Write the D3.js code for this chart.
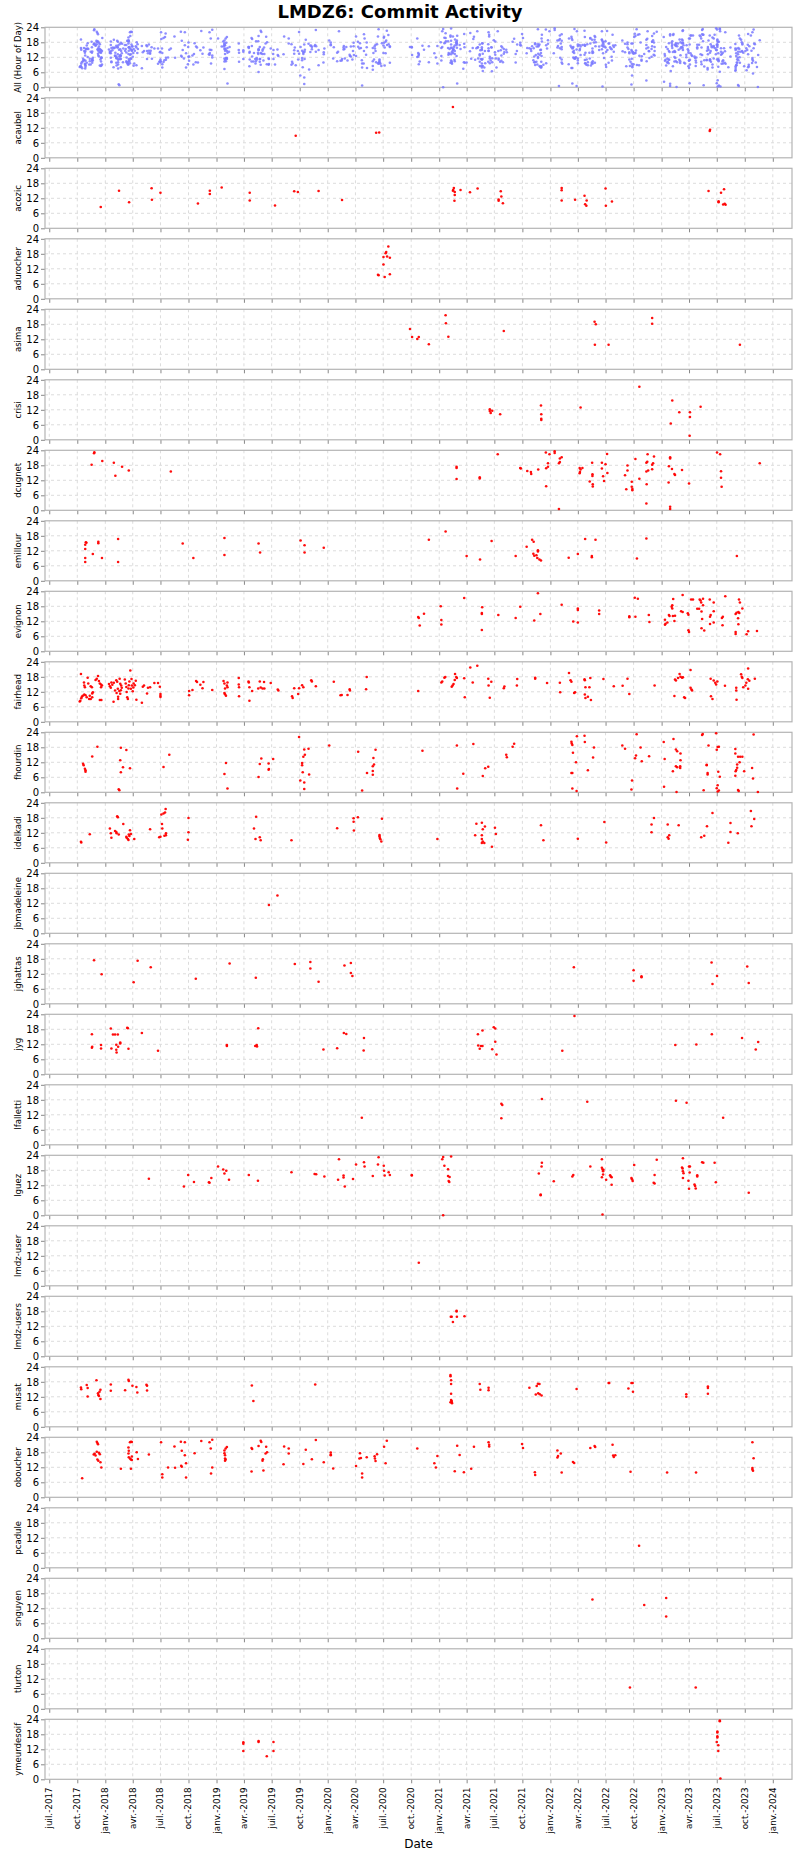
<!DOCTYPE html>
<html><head><meta charset="utf-8">
<script src="https://cdn.jsdelivr.net/npm/d3@7"></script>
<style>body{margin:0;background:#fff}svg{display:block}</style>
</head><body><svg id="c" width="800" height="1860"></svg>
<script>
// ---------------- DATA ----------------
const chartTitle = "LMDZ6: Commit Activity";
const allLabel = "All (Hour of Day)";
const xTitle = "Date";
const yTicks = [0, 6, 12, 18, 24];
const xDomain = ["2017-06-17", "2024-03-04"];
const xTickDates = ["2017-07-01","2017-10-01","2018-01-01","2018-04-01","2018-07-01","2018-10-01","2019-01-01","2019-04-01","2019-07-01","2019-10-01","2020-01-01","2020-04-01","2020-07-01","2020-10-01","2021-01-01","2021-04-01","2021-07-01","2021-10-01","2022-01-01","2022-04-01","2022-07-01","2022-10-01","2023-01-01","2023-04-01","2023-07-01","2023-10-01","2024-01-01"];
const xTickLabels = ["juil.-2017","oct.-2017","janv.-2018","avr.-2018","juil.-2018","oct.-2018","janv.-2019","avr.-2019","juil.-2019","oct.-2019","janv.-2020","avr.-2020","juil.-2020","oct.-2020","janv.-2021","avr.-2021","juil.-2021","oct.-2021","janv.-2022","avr.-2022","juil.-2022","oct.-2022","janv.-2023","avr.-2023","juil.-2023","oct.-2023","janv.-2024"];
const authors = ["acaubel","acozic","adurocher","asima","crisi","dcugnet","emillour","evignon","fairhead","fhourdin","idelkadi","jbmadeleine","jghattas","jyg","lfalletti","lguez","lmdz-user","lmdz-users","musat","oboucher","pcadule","snguyen","tlurton","ymeurdesoif"];

// [date, hour of day]
const acaubel = [["2019-09-18",8.8],["2020-06-08",10.0],["2020-06-18",10.1],["2021-02-15",20.3],["2023-06-08",10.7],["2023-06-09",11.2]];
const acozic = [["2017-12-17",8.5],["2018-02-15",15.0],["2018-03-20",10.4],["2018-06-02",16.0],["2018-06-03",11.4],["2018-07-01",14.2],["2018-11-01",9.9],["2018-12-10",15.0],["2018-12-10",13.7],["2019-01-18",16.3],["2019-04-20",14.2],["2019-04-20",11.1],["2019-07-12",9.1],["2019-09-13",14.8],["2019-09-25",14.5],["2019-12-02",14.9],["2020-02-17",11.3],["2021-02-15",15.0],["2021-02-18",16.1],["2021-02-16",15.3],["2021-02-21",14.5],["2021-02-21",13.3],["2021-02-20",11.0],["2021-03-12",15.3],["2021-04-12",14.4],["2021-05-07",15.9],["2021-07-15",11.5],["2021-07-15",11.0],["2021-07-22",14.8],["2021-07-24",12.7],["2021-07-29",10.0],["2022-02-07",16.1],["2022-02-07",15.2],["2022-02-07",11.1],["2022-03-23",11.4],["2022-04-23",13.0],["2022-04-25",9.6],["2022-04-29",9.0],["2022-04-30",11.1],["2022-07-01",15.9],["2022-07-02",9.0],["2022-07-22",10.7],["2023-06-04",14.9],["2023-07-07",10.8],["2023-07-07",10.4],["2023-07-15",14.2],["2023-07-25",15.6],["2023-07-22",9.5],["2023-07-27",9.8],["2023-07-30",9.4]];
const adurocher = [["2020-06-14",9.6],["2020-06-16",9.4],["2020-07-02",13.7],["2020-07-02",16.7],["2020-07-06",8.7],["2020-07-09",18.2],["2020-07-11",18.7],["2020-07-14",16.9],["2020-07-18",20.9],["2020-07-23",16.4],["2020-07-23",9.8]];
const asima = [["2020-09-27",16.1],["2020-10-04",12.9],["2020-10-21",12.1],["2020-10-26",12.9],["2020-11-28",10.0],["2021-01-22",21.6],["2021-01-23",18.4],["2021-01-31",13.0],["2021-08-01",15.3],["2022-05-26",19.0],["2022-05-30",18.0],["2022-05-27",9.8],["2022-07-11",9.8],["2022-12-01",20.5],["2022-12-01",18.2],["2023-09-15",9.8]];
const crisi = [["2021-06-16",12.2],["2021-06-16",11.5],["2021-06-19",10.7],["2021-06-24",11.6],["2021-07-20",10.2],["2021-12-01",13.7],["2021-12-02",10.2],["2021-12-02",8.4],["2021-12-02",7.9],["2022-04-10",12.9],["2022-10-20",21.2],["2023-02-05",15.7],["2023-01-31",6.5],["2023-02-28",11.0],["2023-04-04",11.0],["2023-04-04",9.1],["2023-04-03",1.6],["2023-05-09",13.2]];
const dcugnet = [["2017-11-17",18.2],["2017-11-25",22.8],["2017-11-26",23.2],["2017-12-22",19.7],["2018-01-29",19.0],["2018-02-03",13.8],["2018-02-25",17.4],["2018-03-19",15.9],["2018-08-04",15.5],["2021-02-27",17.4],["2021-02-27",16.9],["2021-02-27",12.5],["2021-05-14",13.2],["2021-05-14",12.7],["2021-07-12",22.4],["2021-09-24",16.9],["2021-09-26",16.7],["2021-10-17",15.7],["2021-10-29",15.3],["2021-10-30",14.5],["2021-11-22",16.3],["2021-12-17",23.1],["2021-12-18",9.6],["2021-12-18",16.8],["2021-12-24",17.4],["2021-12-24",18.8],["2021-12-29",22.4],["2022-01-15",23.6],["2022-01-15",22.9],["2022-01-29",18.8],["2022-02-01",19.3],["2022-02-01",20.7],["2022-02-07",21.2],["2022-01-29",0.5],["2022-04-07",16.9],["2022-04-10",16.3],["2022-04-08",15.3],["2022-04-07",14.8],["2022-04-16",16.9],["2022-05-10",11.5],["2022-05-20",10.4],["2022-05-20",9.5],["2022-05-19",14.4],["2022-05-19",13.7],["2022-05-18",19.0],["2022-06-19",19.0],["2022-06-19",16.7],["2022-06-23",13.6],["2022-06-26",11.7],["2022-07-01",18.4],["2022-07-07",14.9],["2022-07-06",22.5],["2022-09-03",14.0],["2022-09-11",15.9],["2022-09-11",17.9],["2022-09-07",8.4],["2022-09-25",11.4],["2022-09-25",9.4],["2022-09-27",8.5],["2022-09-27",8.0],["2022-10-07",20.5],["2022-10-20",12.6],["2022-11-12",19.0],["2022-11-15",19.4],["2022-11-16",22.4],["2022-11-12",15.5],["2022-11-18",15.9],["2022-11-13",10.4],["2022-11-12",2.7],["2022-12-01",16.4],["2022-12-01",18.2],["2022-12-04",18.8],["2022-12-07",21.5],["2023-01-25",17.6],["2023-01-29",21.2],["2023-01-29",20.7],["2023-01-24",11.1],["2023-01-29",1.4],["2023-01-29",0.5],["2023-02-04",16.5],["2023-02-12",14.5],["2023-02-14",14.1],["2023-03-09",16.1],["2023-04-01",10.7],["2023-07-02",23.1],["2023-07-12",22.4],["2023-07-15",15.6],["2023-07-15",13.0],["2023-07-17",9.4],["2023-11-19",18.8]];
const emillour = [["2017-10-29",15.4],["2017-10-31",15.2],["2017-10-27",14.4],["2017-10-27",12.7],["2017-10-27",9.1],["2017-10-27",7.5],["2017-11-21",10.7],["2017-12-09",15.6],["2017-12-09",15.0],["2017-12-21",9.1],["2018-02-12",16.7],["2018-02-12",7.5],["2018-09-12",14.9],["2018-10-17",9.1],["2019-01-27",17.1],["2019-01-27",10.3],["2019-05-19",14.9],["2019-05-24",11.3],["2019-10-04",16.1],["2019-10-17",14.2],["2019-10-17",11.3],["2019-12-19",13.2],["2020-11-28",16.4],["2021-01-22",19.7],["2021-04-01",9.9],["2021-05-15",8.5],["2021-06-22",15.9],["2021-09-09",9.9],["2021-10-15",13.6],["2021-11-02",16.4],["2021-11-07",15.6],["2021-11-06",10.8],["2021-11-09",10.0],["2021-11-16",10.2],["2021-11-21",12.2],["2021-11-21",11.7],["2021-11-19",9.1],["2021-11-26",8.5],["2021-12-01",8.1],["2022-03-02",9.2],["2022-04-01",10.7],["2022-04-25",16.7],["2022-05-17",9.9],["2022-05-17",9.4],["2022-05-29",16.4],["2022-10-12",8.9],["2022-11-12",16.9],["2023-09-05",9.9]];
const evignon = [["2020-10-24",13.7],["2020-10-26",13.3],["2020-10-29",10.3],["2020-11-12",15.0],["2021-01-06",18.0],["2021-01-08",12.5],["2021-01-08",10.7],["2021-03-24",21.3],["2021-05-22",17.6],["2021-05-21",15.3],["2021-05-21",14.9],["2021-05-21",8.5],["2021-07-14",14.5],["2021-09-09",13.3],["2021-09-24",17.8],["2021-11-09",12.3],["2021-11-21",23.2],["2021-11-29",14.9],["2022-02-07",18.6],["2022-03-17",11.9],["2022-04-01",11.5],["2022-04-01",17.1],["2022-04-01",16.5],["2022-06-10",16.3],["2022-06-10",14.9],["2022-09-17",14.0],["2022-09-17",13.6],["2022-10-05",21.4],["2022-10-15",21.0],["2022-10-07",13.8],["2022-11-20",14.5],["2022-11-22",11.7],["2023-01-12",12.6],["2023-01-14",11.0],["2023-01-12",10.6],["2023-01-20",11.5],["2023-01-25",14.5],["2023-01-27",14.1],["2023-02-03",17.8],["2023-02-05",18.4],["2023-02-05",17.1],["2023-02-08",20.9],["2023-02-07",14.1],["2023-02-12",12.1],["2023-02-14",14.2],["2023-03-06",16.0],["2023-03-11",15.7],["2023-03-11",22.5],["2023-03-28",15.2],["2023-03-30",14.6],["2023-03-30",8.4],["2023-04-01",7.7],["2023-04-08",20.7],["2023-04-14",20.7],["2023-04-28",17.0],["2023-05-04",17.0],["2023-05-06",20.7],["2023-05-09",20.3],["2023-05-11",19.5],["2023-05-12",15.9],["2023-05-14",12.9],["2023-05-17",18.4],["2023-05-17",21.0],["2023-05-12",9.2],["2023-05-21",8.3],["2023-06-08",20.7],["2023-06-09",13.8],["2023-06-09",10.9],["2023-06-11",14.5],["2023-06-21",19.5],["2023-06-21",16.0],["2023-06-21",11.5],["2023-07-18",13.3],["2023-07-21",13.8],["2023-07-20",10.4],["2023-07-29",22.0],["2023-09-01",14.9],["2023-09-04",15.4],["2023-09-09",13.2],["2023-09-10",10.8],["2023-09-12",20.7],["2023-09-15",19.5],["2023-09-10",15.7],["2023-09-13",15.3],["2023-09-23",17.1],["2023-09-01",7.7],["2023-09-01",6.9],["2023-10-07",6.8],["2023-10-12",8.0],["2023-11-10",8.1]];
const fairhead = [["2017-10-13",19.1],["2017-10-11",8.4],["2017-10-09",8.1],["2017-10-14",9.4],["2017-10-16",10.0],["2017-10-19",10.4],["2017-10-23",15.7],["2017-10-24",14.5],["2017-10-26",13.8],["2017-10-24",10.9],["2017-10-28",10.6],["2017-11-01",9.8],["2017-11-04",17.6],["2017-11-06",15.3],["2017-11-09",9.1],["2017-11-11",10.4],["2017-11-14",9.1],["2017-11-14",14.2],["2017-11-18",13.8],["2017-11-19",11.3],["2017-11-21",11.8],["2017-11-19",9.8],["2017-11-30",16.7],["2017-12-04",17.2],["2017-12-08",18.3],["2017-12-11",16.3],["2017-12-14",15.3],["2017-12-18",13.8],["2017-12-18",14.9],["2017-12-21",14.5],["2017-12-14",8.7],["2017-12-19",8.7],["2018-01-13",15.1],["2018-01-16",14.2],["2018-01-19",13.6],["2018-01-21",15.7],["2018-01-24",14.8],["2018-01-28",8.0],["2018-01-29",15.6],["2018-02-02",12.5],["2018-02-06",16.6],["2018-02-07",11.5],["2018-02-09",16.0],["2018-02-11",13.2],["2018-02-12",9.1],["2018-02-12",10.0],["2018-02-16",12.3],["2018-02-17",17.2],["2018-02-19",11.2],["2018-02-19",15.2],["2018-02-21",12.6],["2018-02-22",14.5],["2018-02-24",13.6],["2018-03-06",16.9],["2018-03-09",15.3],["2018-03-11",13.9],["2018-03-12",11.9],["2018-03-14",9.8],["2018-03-16",9.1],["2018-03-18",13.3],["2018-03-19",14.6],["2018-03-21",16.1],["2018-03-24",20.5],["2018-03-26",13.2],["2018-03-28",17.1],["2018-03-29",14.5],["2018-04-01",12.2],["2018-04-03",13.7],["2018-04-04",15.3],["2018-04-08",14.6],["2018-04-11",16.4],["2018-04-13",8.8],["2018-05-01",7.6],["2018-05-04",14.0],["2018-05-08",14.5],["2018-05-18",11.3],["2018-05-21",13.6],["2018-05-28",13.8],["2018-06-11",15.5],["2018-06-23",15.5],["2018-06-29",14.0],["2018-07-01",11.1],["2018-07-01",10.4],["2018-07-01",9.9],["2018-10-03",12.3],["2018-10-03",10.6],["2018-10-14",12.7],["2018-10-26",16.3],["2018-10-29",15.9],["2018-11-09",14.8],["2018-11-16",13.4],["2018-11-19",15.9],["2018-12-18",12.7],["2019-01-24",16.3],["2019-01-27",15.3],["2019-01-29",13.3],["2019-01-27",11.5],["2019-01-29",11.0],["2019-02-01",10.4],["2019-02-04",14.5],["2019-02-06",13.8],["2019-02-06",15.7],["2019-03-15",17.5],["2019-03-15",14.9],["2019-03-16",13.8],["2019-03-16",10.2],["2019-04-16",16.1],["2019-04-17",15.7],["2019-04-19",13.8],["2019-04-19",8.4],["2019-04-28",12.3],["2019-05-18",13.3],["2019-05-23",16.1],["2019-05-26",13.7],["2019-06-01",13.3],["2019-06-06",15.9],["2019-06-07",13.3],["2019-06-28",15.5],["2019-07-21",12.9],["2019-07-23",12.5],["2019-09-06",10.2],["2019-09-08",9.5],["2019-09-13",13.4],["2019-09-26",11.1],["2019-09-29",13.4],["2019-10-09",14.6],["2019-10-13",13.8],["2019-11-08",16.6],["2019-11-10",16.1],["2019-11-23",14.2],["2020-01-21",16.0],["2020-02-12",10.6],["2020-02-16",10.7],["2020-03-06",10.7],["2020-03-13",13.0],["2020-03-14",12.5],["2020-05-06",13.0],["2020-05-08",17.9],["2020-10-24",12.3],["2021-01-08",15.7],["2021-01-11",16.1],["2021-01-18",17.6],["2021-01-21",17.9],["2021-02-11",14.0],["2021-02-14",14.5],["2021-02-17",15.1],["2021-02-21",16.7],["2021-02-22",19.1],["2021-02-26",17.9],["2021-02-28",17.5],["2021-03-24",17.4],["2021-03-26",9.8],["2021-04-13",21.7],["2021-04-21",15.7],["2021-05-06",22.4],["2021-06-11",17.2],["2021-06-12",14.5],["2021-06-16",9.6],["2021-06-21",16.0],["2021-08-01",13.4],["2021-08-03",14.1],["2021-09-13",14.5],["2021-09-14",17.1],["2021-11-12",17.2],["2021-11-12",17.6],["2021-12-21",15.5],["2022-02-01",15.6],["2022-02-02",11.8],["2022-03-03",19.5],["2022-03-08",16.6],["2022-03-11",16.0],["2022-03-20",11.5],["2022-03-23",11.8],["2022-04-23",17.0],["2022-04-24",16.6],["2022-04-26",13.8],["2022-04-24",10.9],["2022-04-26",9.5],["2022-05-04",10.0],["2022-05-14",8.7],["2022-05-09",13.8],["2022-05-12",17.5],["2022-06-24",17.1],["2022-07-28",14.2],["2022-08-26",14.4],["2022-09-11",17.2],["2022-09-17",11.1],["2022-12-09",14.5],["2023-02-12",10.3],["2023-02-14",16.9],["2023-02-17",16.5],["2023-02-24",17.5],["2023-03-01",19.1],["2023-03-04",18.0],["2023-03-12",17.8],["2023-03-16",9.8],["2023-03-19",9.5],["2023-04-06",20.7],["2023-04-06",13.6],["2023-04-09",12.9],["2023-04-11",12.5],["2023-03-09",17.6],["2023-06-11",17.2],["2023-06-12",10.2],["2023-06-17",9.1],["2023-06-21",16.5],["2023-06-26",15.6],["2023-06-29",14.9],["2023-07-03",16.1],["2023-07-28",14.4],["2023-09-03",13.6],["2023-09-03",12.5],["2023-09-04",8.8],["2023-09-19",19.0],["2023-09-21",18.0],["2023-09-23",17.5],["2023-09-26",13.8],["2023-10-03",14.5],["2023-10-06",15.6],["2023-10-11",17.0],["2023-10-12",21.3],["2023-10-12",13.2],["2023-10-16",16.4],["2023-11-03",17.2]];
const fhourdin = [["2017-10-20",11.4],["2017-10-22",10.8],["2017-10-26",9.4],["2017-10-28",8.8],["2017-10-28",8.2],["2017-11-19",14.3],["2017-12-06",18.2],["2018-02-14",1.2],["2018-02-16",0.8],["2018-02-21",17.8],["2018-02-19",12.8],["2018-02-21",8.0],["2018-02-28",10.0],["2018-03-11",16.9],["2018-03-23",9.6],["2018-07-11",10.1],["2018-07-30",15.0],["2019-01-27",7.3],["2019-02-01",11.7],["2019-02-06",1.5],["2019-05-19",6.1],["2019-05-23",11.3],["2019-05-28",13.5],["2019-06-21",11.5],["2019-06-21",9.0],["2019-06-22",9.3],["2019-07-06",13.3],["2019-09-29",22.1],["2019-10-03",4.7],["2019-10-16",3.9],["2019-10-16",1.3],["2019-10-09",10.8],["2019-10-09",11.7],["2019-10-11",8.0],["2019-10-13",14.2],["2019-10-18",15.0],["2019-10-16",17.1],["2019-10-30",17.4],["2019-11-01",7.1],["2020-01-06",18.7],["2020-04-10",16.2],["2020-04-23",0.7],["2020-05-09",7.7],["2020-05-28",8.5],["2020-05-28",7.0],["2020-05-28",10.4],["2020-06-01",11.1],["2020-05-30",13.7],["2020-06-06",17.0],["2020-11-07",16.6],["2021-02-28",18.7],["2021-03-01",1.5],["2021-03-21",7.4],["2021-04-23",19.3],["2021-05-24",6.5],["2021-06-01",9.6],["2021-06-11",10.2],["2021-08-09",15.0],["2021-08-11",14.0],["2021-08-30",18.2],["2021-09-04",19.4],["2022-03-11",20.2],["2022-03-12",19.5],["2022-03-14",18.9],["2022-03-11",7.7],["2022-03-14",7.7],["2022-03-16",15.8],["2022-03-29",22.4],["2022-03-26",12.0],["2022-03-14",1.5],["2022-03-28",0.5],["2022-04-23",22.6],["2022-04-24",20.1],["2022-05-04",8.8],["2022-05-21",13.9],["2022-05-24",17.9],["2022-08-25",18.7],["2022-09-03",17.4],["2022-09-26",4.7],["2022-09-24",1.1],["2022-10-06",13.6],["2022-10-09",14.7],["2022-10-11",23.2],["2022-10-24",17.9],["2022-10-28",12.4],["2022-11-21",14.4],["2023-01-08",20.1],["2023-01-11",13.3],["2023-01-09",2.2],["2023-02-07",8.4],["2023-02-09",21.3],["2023-02-17",17.1],["2023-02-17",10.4],["2023-02-21",16.4],["2023-02-21",10.0],["2023-02-19",0.1],["2023-03-04",15.5],["2023-03-04",12.8],["2023-03-03",10.4],["2023-03-03",9.7],["2023-05-14",22.9],["2023-05-16",23.3],["2023-05-19",0.8],["2023-05-29",11.0],["2023-05-29",10.8],["2023-06-01",7.7],["2023-06-01",7.1],["2023-06-04",18.7],["2023-06-29",23.6],["2023-07-01",17.0],["2023-07-01",1.6],["2023-07-04",18.1],["2023-07-04",2.8],["2023-07-04",0.3],["2023-07-08",18.2],["2023-07-08",0.7],["2023-07-06",8.2],["2023-07-11",6.2],["2023-08-31",17.3],["2023-08-31",15.5],["2023-08-31",6.6],["2023-09-01",8.4],["2023-09-03",8.9],["2023-09-06",9.8],["2023-09-06",11.1],["2023-09-09",14.2],["2023-09-09",0.9],["2023-09-14",12.0],["2023-09-16",14.2],["2023-09-23",14.2],["2023-09-11",0.5],["2023-09-29",8.4],["2023-10-25",9.7],["2023-10-28",5.5],["2023-10-30",23.1],["2023-11-13",0.1]];
const idelkadi = [["2017-10-13",8.4],["2017-10-14",8.1],["2017-11-11",11.4],["2018-01-16",13.7],["2018-01-19",11.8],["2018-01-21",10.0],["2018-02-02",12.7],["2018-02-06",12.3],["2018-02-07",11.8],["2018-02-09",18.6],["2018-02-11",18.2],["2018-02-14",11.3],["2018-03-01",15.5],["2018-03-11",10.4],["2018-03-12",10.0],["2018-03-16",9.5],["2018-03-18",9.1],["2018-03-19",11.3],["2018-03-21",10.7],["2018-03-23",13.0],["2018-03-26",11.5],["2018-04-06",9.5],["2018-05-28",13.4],["2018-06-27",10.2],["2018-07-01",10.4],["2018-07-06",15.5],["2018-07-07",13.7],["2018-07-04",19.3],["2018-07-11",19.7],["2018-07-16",20.1],["2018-07-18",21.5],["2018-07-14",10.8],["2018-07-19",11.0],["2018-07-19",11.8],["2018-10-01",17.9],["2018-10-01",12.2],["2018-09-29",9.2],["2019-05-04",13.7],["2019-05-11",18.4],["2019-05-09",9.5],["2019-05-23",10.2],["2019-05-26",9.0],["2019-09-04",9.0],["2020-02-01",13.8],["2020-03-26",17.8],["2020-03-26",16.4],["2020-03-27",12.9],["2020-04-09",18.2],["2020-06-19",11.1],["2020-06-19",10.6],["2020-06-20",9.9],["2020-06-22",9.4],["2020-06-25",8.5],["2020-06-27",17.6],["2020-12-26",9.5],["2021-04-29",11.0],["2021-05-03",15.6],["2021-05-21",16.0],["2021-05-21",11.0],["2021-05-21",9.5],["2021-05-21",7.9],["2021-05-24",13.4],["2021-05-24",8.5],["2021-05-29",7.9],["2021-05-31",14.5],["2021-06-23",6.4],["2021-07-03",14.0],["2021-07-06",11.5],["2021-12-01",15.0],["2021-12-09",9.0],["2022-04-01",9.6],["2022-06-27",16.3],["2022-07-03",8.1],["2022-11-29",15.3],["2022-11-29",12.2],["2022-12-07",17.9],["2023-01-21",15.3],["2023-01-21",10.2],["2023-01-24",9.6],["2023-01-26",11.0],["2023-02-26",15.0],["2023-05-11",10.2],["2023-05-21",10.8],["2023-05-30",14.6],["2023-06-17",19.9],["2023-08-08",8.0],["2023-08-15",15.9],["2023-08-15",12.3],["2023-09-08",11.8],["2023-10-21",20.7],["2023-10-23",14.6],["2023-11-01",17.5]];
const jbmadeleine = [["2019-06-22",11.3],["2019-07-20",15.1]];
const jghattas = [["2017-11-25",17.4],["2017-12-20",11.8],["2018-04-04",8.6],["2018-04-17",17.2],["2018-05-30",14.6],["2018-10-25",10.0],["2019-02-13",16.1],["2019-05-10",10.4],["2019-09-15",15.9],["2019-11-05",16.7],["2019-11-05",14.1],["2019-12-02",8.8],["2020-02-25",15.3],["2020-03-17",16.3],["2020-03-17",12.3],["2020-03-22",11.1],["2022-03-19",14.6],["2022-10-01",13.4],["2022-10-01",9.2],["2022-10-27",11.0],["2022-10-27",10.6],["2023-06-14",16.5],["2023-06-17",7.9],["2023-07-02",11.1],["2023-10-09",14.9],["2023-10-14",8.3]];
const jyg = [["2017-11-18",16.0],["2017-11-19",11.0],["2017-11-18",10.6],["2017-12-18",11.7],["2017-12-18",10.3],["2018-01-19",18.3],["2018-01-21",10.3],["2018-01-26",15.9],["2018-02-02",15.9],["2018-02-11",15.9],["2018-02-06",11.8],["2018-02-06",9.8],["2018-02-07",8.7],["2018-02-12",11.0],["2018-02-19",12.7],["2018-02-19",12.3],["2018-03-14",18.6],["2018-03-16",18.4],["2018-03-18",10.2],["2018-05-01",16.5],["2018-06-23",9.4],["2019-02-04",11.7],["2019-02-04",11.3],["2019-05-08",11.3],["2019-05-13",11.7],["2019-05-14",11.1],["2019-05-18",18.4],["2019-12-18",9.9],["2020-02-01",10.4],["2020-02-23",16.5],["2020-03-02",16.1],["2020-04-29",14.5],["2020-04-28",9.5],["2021-05-08",16.0],["2021-05-09",11.5],["2021-05-14",10.2],["2021-05-18",11.3],["2021-05-23",11.3],["2021-05-23",17.5],["2021-06-24",10.0],["2021-06-29",18.8],["2021-07-04",18.3],["2021-07-04",13.0],["2021-07-08",7.9],["2022-02-09",9.4],["2022-03-21",23.3],["2023-02-15",11.7],["2023-04-25",11.9],["2023-06-15",16.0],["2023-09-22",14.5],["2023-11-06",9.9],["2023-11-14",12.9]];
const lfalletti = [["2020-04-22",10.8],["2021-07-24",16.4],["2021-07-27",15.9],["2021-07-24",10.6],["2021-12-04",18.3],["2022-05-02",17.2],["2023-02-17",17.6],["2023-03-24",16.8],["2023-07-22",10.8]];
const lguez = [["2018-05-24",14.6],["2018-09-16",11.5],["2018-09-30",16.1],["2018-10-19",13.3],["2018-12-07",13.2],["2018-12-09",13.0],["2018-12-15",14.9],["2019-01-06",19.5],["2019-01-23",18.3],["2019-01-27",16.7],["2019-02-02",17.8],["2019-02-11",14.2],["2019-04-17",16.1],["2019-05-17",13.8],["2019-09-04",17.2],["2019-11-19",16.5],["2019-11-24",16.4],["2019-12-21",15.5],["2020-02-04",14.2],["2020-02-07",22.4],["2020-02-22",15.9],["2020-02-22",15.1],["2020-02-26",11.5],["2020-03-24",14.5],["2020-04-03",20.3],["2020-04-29",21.2],["2020-05-01",19.5],["2020-05-28",15.7],["2020-06-16",23.2],["2020-06-14",20.3],["2020-07-03",19.8],["2020-07-04",17.8],["2020-07-06",15.9],["2020-07-19",17.2],["2020-07-23",16.1],["2020-10-03",16.1],["2020-10-03",15.9],["2021-01-11",22.4],["2021-01-14",23.3],["2021-01-18",19.8],["2021-01-30",18.4],["2021-01-30",15.7],["2021-02-04",15.3],["2021-02-01",13.7],["2021-02-03",13.3],["2021-02-09",23.5],["2021-01-14",0.0],["2021-11-24",16.7],["2021-11-30",8.3],["2021-11-30",8.0],["2021-12-03",19.5],["2021-12-04",21.0],["2022-01-12",13.6],["2022-03-14",15.5],["2022-03-17",16.1],["2022-05-12",19.5],["2022-06-19",22.4],["2022-06-19",19.0],["2022-06-19",15.2],["2022-06-21",18.3],["2022-06-21",0.3],["2022-06-23",16.3],["2022-06-23",17.6],["2022-06-24",18.2],["2022-07-03",14.2],["2022-07-16",16.0],["2022-07-18",15.5],["2022-07-21",15.2],["2022-07-21",12.2],["2022-09-24",14.9],["2022-09-26",14.4],["2022-09-28",13.7],["2022-10-03",20.1],["2022-12-06",13.0],["2022-12-09",12.7],["2022-12-09",16.1],["2022-12-16",22.2],["2023-03-12",22.8],["2023-03-12",14.9],["2023-03-12",17.6],["2023-03-09",19.1],["2023-03-11",18.7],["2023-03-14",16.8],["2023-04-01",19.5],["2023-04-01",10.6],["2023-04-04",19.5],["2023-04-03",17.1],["2023-03-30",13.8],["2023-04-19",12.3],["2023-04-21",11.7],["2023-04-23",10.7],["2023-04-28",16.0],["2023-04-28",15.5],["2023-05-14",21.2],["2023-05-18",21.0],["2023-06-24",21.0],["2023-06-28",13.2],["2023-10-14",9.0]];
const lmdzUser = [["2020-10-26",9.2]];
const lmdzUsers = [["2021-02-08",15.8],["2021-02-11",15.8],["2021-02-15",13.7],["2021-02-27",17.9],["2021-02-27",18.2],["2021-02-28",15.8],["2021-03-25",16.0]];
const musat = [["2017-10-13",15.7],["2017-10-14",15.0],["2017-11-01",16.7],["2017-11-04",15.5],["2017-11-04",12.1],["2017-12-03",18.6],["2017-12-09",12.7],["2017-12-08",13.4],["2017-12-13",14.0],["2017-12-16",14.8],["2017-12-11",12.3],["2017-12-16",11.1],["2018-01-19",16.9],["2018-01-19",14.4],["2018-03-07",14.6],["2018-03-18",18.8],["2018-03-19",18.3],["2018-03-31",16.4],["2018-04-13",15.9],["2018-04-16",13.7],["2018-05-16",16.8],["2018-05-18",16.4],["2018-05-18",14.5],["2019-04-27",16.5],["2019-05-02",10.3],["2019-11-21",16.9],["2021-02-07",20.7],["2021-02-07",20.2],["2021-02-07",9.8],["2021-02-09",18.6],["2021-02-09",17.1],["2021-02-09",13.2],["2021-02-09",10.7],["2021-02-11",10.3],["2021-02-11",9.8],["2021-02-12",9.4],["2021-05-14",17.1],["2021-05-16",14.8],["2021-06-12",15.6],["2021-06-12",14.6],["2021-10-24",15.6],["2021-11-14",12.9],["2021-11-17",16.3],["2021-11-21",17.2],["2021-11-26",17.1],["2021-11-22",13.4],["2021-11-27",13.0],["2021-12-03",12.5],["2022-03-28",15.1],["2022-07-11",17.5],["2022-07-13",17.5],["2022-09-14",15.3],["2022-09-24",17.5],["2022-09-28",17.5],["2022-09-29",14.0],["2023-03-23",13.0],["2023-03-23",12.0],["2023-06-02",16.1],["2023-06-02",15.5],["2023-06-02",13.2]];
const oboucher = [["2017-10-17",7.6],["2017-11-24",17.1],["2017-11-27",17.4],["2017-11-30",16.7],["2017-12-04",22.2],["2017-12-04",18.2],["2017-12-06",21.7],["2017-12-06",15.1],["2017-12-08",21.2],["2017-12-09",14.6],["2017-12-11",17.8],["2017-12-14",17.2],["2017-12-16",14.0],["2017-12-19",11.9],["2018-02-21",11.4],["2018-03-18",19.9],["2018-03-18",17.5],["2018-03-19",18.6],["2018-03-19",16.0],["2018-03-23",15.5],["2018-03-23",22.0],["2018-03-26",15.1],["2018-03-26",11.4],["2018-03-26",22.2],["2018-03-29",14.9],["2018-03-29",22.1],["2018-03-29",16.3],["2018-04-14",18.0],["2018-04-18",15.3],["2018-05-24",17.1],["2018-07-03",22.0],["2018-07-07",9.2],["2018-07-07",7.9],["2018-07-26",11.9],["2018-08-16",20.3],["2018-08-18",11.8],["2018-09-06",22.2],["2018-09-19",22.0],["2018-09-09",18.6],["2018-09-07",12.6],["2018-09-09",12.2],["2018-09-19",16.8],["2018-09-23",13.6],["2018-09-23",7.9],["2018-10-21",17.6],["2018-11-12",22.5],["2018-12-09",22.0],["2018-12-18",23.0],["2018-12-13",19.5],["2018-12-18",11.9],["2018-12-14",9.5],["2019-01-31",19.5],["2019-02-04",20.1],["2019-01-27",18.7],["2019-01-27",17.6],["2019-01-29",16.8],["2019-01-29",15.5],["2019-01-29",14.6],["2019-01-31",15.1],["2019-04-26",19.7],["2019-04-28",19.3],["2019-04-26",10.3],["2019-05-19",20.5],["2019-05-26",22.6],["2019-05-28",22.1],["2019-06-01",14.6],["2019-06-02",15.2],["2019-06-04",10.7],["2019-06-13",20.2],["2019-06-16",18.0],["2019-06-11",17.5],["2019-08-11",20.3],["2019-08-09",13.2],["2019-08-26",19.5],["2019-08-26",17.5],["2019-10-13",13.3],["2019-10-21",19.0],["2019-11-10",15.2],["2019-11-23",22.9],["2019-12-19",14.0],["2020-01-11",17.9],["2020-01-11",17.1],["2020-01-11",16.8],["2020-01-19",11.5],["2020-04-03",12.5],["2020-04-16",17.6],["2020-04-14",15.5],["2020-04-19",15.7],["2020-04-23",9.5],["2020-04-23",7.9],["2020-05-08",16.0],["2020-06-03",16.4],["2020-06-04",15.5],["2020-06-06",14.5],["2020-06-11",17.2],["2020-07-04",20.2],["2020-07-09",13.6],["2020-07-13",22.6],["2020-10-21",19.5],["2020-12-16",13.6],["2020-12-21",11.9],["2020-12-26",16.5],["2021-02-21",10.4],["2021-03-01",20.6],["2021-03-09",16.9],["2021-03-23",10.0],["2021-04-16",11.4],["2021-04-25",20.2],["2021-06-12",22.0],["2021-06-14",21.0],["2021-06-14",20.3],["2021-09-30",21.3],["2021-10-03",19.7],["2021-11-11",10.0],["2021-11-12",8.9],["2022-01-24",18.7],["2022-01-24",15.9],["2022-01-26",16.5],["2022-02-04",17.5],["2022-02-07",9.9],["2022-03-16",14.1],["2022-03-20",13.7],["2022-05-12",19.7],["2022-05-26",20.5],["2022-05-28",20.1],["2022-07-24",21.0],["2022-07-26",16.7],["2022-07-28",16.1],["2022-08-02",16.8],["2022-09-21",10.2],["2023-01-19",9.9],["2023-04-24",9.9],["2023-10-26",22.0],["2023-10-26",11.7],["2023-10-26",11.1],["2023-10-30",15.6],["2023-10-28",10.6]];
const pcadule = [["2022-10-19",8.8]];
const snguyen = [["2022-05-19",15.5],["2022-11-05",13.3],["2023-01-16",16.1],["2023-01-16",8.7]];
const tlurton = [["2022-09-19",8.5],["2023-04-23",8.5]];
const ymeurdesoif = [["2019-03-30",14.8],["2019-03-30",14.2],["2019-03-30",11.3],["2019-05-19",15.3],["2019-05-19",14.9],["2019-06-15",9.2],["2019-07-07",14.9],["2019-07-07",11.3],["2023-07-11",23.5],["2023-07-11",23.2],["2023-07-03",19.1],["2023-07-03",18.7],["2023-07-03",17.2],["2023-07-03",16.7],["2023-07-01",14.9],["2023-07-06",13.6],["2023-07-06",11.3],["2023-07-13",0.3]];

const authorSeries = [acaubel, acozic, adurocher, asima, crisi, dcugnet, emillour, evignon, fairhead, fhourdin, idelkadi, jbmadeleine, jghattas, jyg, lfalletti, lguez, lmdzUser, lmdzUsers, musat, oboucher, pcadule, snguyen, tlurton, ymeurdesoif];

// ---------------- DRAW ----------------
const parse = d3.utcParse("%Y-%m-%d");
const svg = d3.select("#c");
const left = 45, right = 792, top0 = 27.3, step = 70.5, ph = 60;
const FONT = "'DejaVu Sans', sans-serif";

const x = d3.scaleUtc().domain(xDomain.map(parse)).range([left, right]);
const y = d3.scaleLinear().domain([0, 24]).range([ph, 0]);
const tickDates = xTickDates.map(parse);

const panels = [{label: allLabel, data: authorSeries.flat(), color: "#7a7aff", op: 0.85}]
  .concat(authors.map((a, i) => ({label: a, data: authorSeries[i], color: "#ff0000", op: 0.95})));

svg.append("text").attr("x", 400).attr("y", 18).attr("text-anchor", "middle")
  .attr("font-family", FONT).attr("font-weight", "bold").attr("font-size", 18).text(chartTitle);

panels.forEach((p, i) => {
  const g = svg.append("g").attr("transform", `translate(0,${top0 + i * step})`);
  // grid
  g.append("g").selectAll("line").data(tickDates).join("line")
    .attr("x1", d => x(d)).attr("x2", d => x(d)).attr("y1", 0).attr("y2", ph)
    .attr("stroke", "#dcdcdc").attr("stroke-width", 1).attr("stroke-dasharray", "3,3");
  g.append("g").selectAll("line").data(yTicks.slice(1, -1)).join("line")
    .attr("x1", left).attr("x2", right).attr("y1", d => y(d)).attr("y2", d => y(d))
    .attr("stroke", "#dcdcdc").attr("stroke-width", 1).attr("stroke-dasharray", "3,3");
  // y axis
  const ya = g.append("g").attr("transform", `translate(${left},0)`)
    .call(d3.axisLeft(y).tickValues(yTicks).tickSize(4).tickPadding(2));
  ya.select(".domain").remove();
  ya.selectAll(".tick line").attr("stroke", "#888");
  ya.selectAll("text").attr("font-family", FONT).attr("font-size", 10).attr("fill", "#000");
  // x ticks
  const xa = g.append("g").attr("transform", `translate(0,${ph})`)
    .call(d3.axisBottom(x).tickValues(tickDates).tickSize(4).tickFormat(""));
  xa.select(".domain").remove();
  xa.selectAll(".tick line").attr("stroke", "#888");
  // border
  g.append("rect").attr("x", left).attr("y", 0).attr("width", right - left).attr("height", ph)
    .attr("fill", "none").attr("stroke", "#b4b4b4").attr("stroke-width", 1.2);
  // points
  g.append("g").selectAll("circle").data(p.data).join("circle")
    .attr("cx", d => x(parse(d[0]))).attr("cy", d => y(d[1])).attr("r", 1.3)
    .attr("fill", p.color).attr("fill-opacity", p.op);
  // y label
  g.append("text").attr("transform", `translate(20.5,${ph / 2}) rotate(-90) scale(0.9,1)`)
    .attr("text-anchor", "middle").attr("font-family", FONT).attr("font-size", 9.5)
    .text(p.label);
  if (i === panels.length - 1) {
    g.append("g").selectAll("text").data(tickDates).join("text")
      .attr("transform", (d) => `translate(${x(d) + 3},${ph + 8}) rotate(-90)`)
      .attr("text-anchor", "end").attr("font-family", FONT).attr("font-size", 8.8)
      .text((d, k) => xTickLabels[k]);
  }
});

svg.append("text").attr("x", (left + right) / 2).attr("y", 1848).attr("text-anchor", "middle")
  .attr("font-family", FONT).attr("font-size", 12).text(xTitle);
</script></body></html>
